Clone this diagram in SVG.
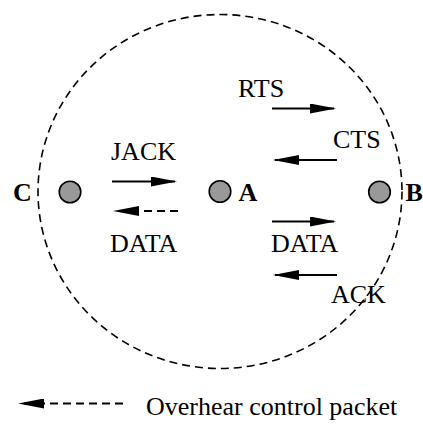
<svg xmlns="http://www.w3.org/2000/svg" width="423" height="424" viewBox="0 0 423 424">
  <style>
    text { font-family: "Liberation Serif", "DejaVu Serif", serif; font-size: 26px; fill: #000; }
    .name { font-weight: bold; }
    .dot { fill: #999; stroke: #000; stroke-width: 1.6; }
    .range { fill: none; stroke: #000; stroke-width: 1.6; stroke-dasharray: 8 5; }
    .msg { fill: none; stroke: #000; stroke-width: 2; marker-end: url(#head); }
    .over { fill: none; stroke: #000; stroke-width: 2; stroke-dasharray: 8 5; marker-end: url(#head); }
  </style>
  <defs>
    <marker id="head" viewBox="0 0 26 10" refX="24" refY="5" markerWidth="26" markerHeight="10" markerUnits="userSpaceOnUse" orient="auto">
      <path d="M0,0 L26,5 L0,10 Z" fill="#000"/>
    </marker>
  </defs>

  <rect width="423" height="424" fill="#fff"/>

  <!-- transmission range of A -->
  <ellipse class="range" cx="220" cy="191.5" rx="182" ry="177"/>

  <!-- nodes -->
  <g id="node-C">
    <circle class="dot" cx="70" cy="192" r="10.8"/>
    <text class="name" x="13" y="200.5">C</text>
  </g>
  <g id="node-A">
    <circle class="dot" cx="220" cy="191.5" r="10.8"/>
    <text class="name" x="238.5" y="200.5">A</text>
  </g>
  <g id="node-B">
    <circle class="dot" cx="379.5" cy="192" r="10.8"/>
    <text class="name" x="405.5" y="200.5">B</text>
  </g>

  <!-- exchanged packets -->
  <g id="connectors">
    <line class="msg" x1="112" y1="181.5" x2="175" y2="181.5"/>
    <line class="over" x1="178" y1="211" x2="115" y2="211"/>
    <line class="msg" x1="272" y1="108.5" x2="334" y2="108.5"/>
    <line class="msg" x1="337" y1="160" x2="275" y2="160"/>
    <line class="msg" x1="272" y1="221.5" x2="334" y2="221.5"/>
    <line class="msg" x1="337" y1="275" x2="275" y2="275"/>
    <line class="over" x1="123" y1="403.5" x2="20" y2="403.5"/>
  </g>

  <!-- packet labels -->
  <g id="labels">
    <text x="111" y="159.5">JACK</text>
    <text x="110" y="251.5">DATA</text>
    <text x="238" y="96.5">RTS</text>
    <text x="333" y="147.5">CTS</text>
    <text x="271" y="251.5">DATA</text>
    <text x="331" y="303">ACK</text>
    <text x="146" y="415">Overhear control packet</text>
  </g>
</svg>
